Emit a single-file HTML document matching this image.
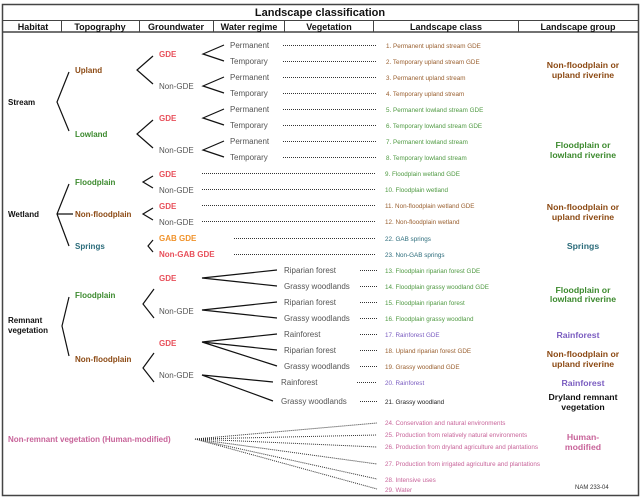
<!DOCTYPE html>
<html><head><meta charset="utf-8"><style>
html,body{margin:0;padding:0;background:#fff;}
svg{display:block;font-family:"Liberation Sans",Arial,sans-serif;}
.h{font-weight:bold;font-size:9px;fill:#111;text-anchor:middle}
.b{font-weight:bold;font-size:8px}
.w{font-size:8px;fill:#555}
.c{font-size:6.3px}
.g{font-weight:bold;font-size:8.7px;text-anchor:middle}
.ln{stroke:#111;stroke-width:1.2;fill:none}
.dt{stroke:#333;stroke-width:1;stroke-dasharray:1 1;fill:none}
</style></head><body>
<svg width="642" height="498" viewBox="0 0 642 498" xmlns="http://www.w3.org/2000/svg">
<rect x="2.5" y="4.5" width="636" height="491" fill="#fff" stroke="#444" stroke-width="1.5"/>
<line x1="2.5" y1="20.5" x2="638.5" y2="20.5" stroke="#444"/>
<line x1="2.5" y1="32" x2="638.5" y2="32" stroke="#444" stroke-width="1.5"/>
<text x="320" y="16" style="font-weight:bold;font-size:11px;fill:#111" text-anchor="middle">Landscape classification</text>
<g stroke="#444"><line x1="61.5" y1="20" x2="61.5" y2="32"/><line x1="139.5" y1="20" x2="139.5" y2="32"/><line x1="213.5" y1="20" x2="213.5" y2="32"/><line x1="284.5" y1="20" x2="284.5" y2="32"/><line x1="373.5" y1="20" x2="373.5" y2="32"/><line x1="518.5" y1="20" x2="518.5" y2="32"/></g>
<text class="h" x="33" y="30">Habitat</text><text class="h" x="100" y="30">Topography</text><text class="h" x="176" y="30">Groundwater</text><text class="h" x="249" y="30">Water regime</text><text class="h" x="329" y="30">Vegetation</text><text class="h" x="446" y="30">Landscape class</text><text class="h" x="578" y="30">Landscape group</text>

<text class="b" x="8" y="105" fill="#111">Stream</text>
<path class="ln" d="M69,72 L57,102 L69,131"/>
<text class="b" x="75" y="73" fill="#8c4a14">Upland</text>
<text class="b" x="75" y="137" fill="#3c8a2e">Lowland</text>
<path class="ln" d="M153,56 L137,70 L153,84"/><path class="ln" d="M153,120 L137,134 L153,148"/>
<text class="b" x="159" y="57" fill="#e8505b">GDE</text><text class="w" x="159" y="89">Non-GDE</text>
<text class="b" x="159" y="121" fill="#e8505b">GDE</text><text class="w" x="159" y="153">Non-GDE</text>
<g class="ln">
<path d="M224,45 L203,54 L224,61"/><path d="M224,77 L203,86 L224,93"/><path d="M224,109 L203,118 L224,125"/><path d="M224,141 L203,150 L224,157"/>
</g>
<g class="w">
<text x="230" y="48">Permanent</text><text x="230" y="64">Temporary</text><text x="230" y="80">Permanent</text><text x="230" y="96">Temporary</text>
<text x="230" y="112">Permanent</text><text x="230" y="128">Temporary</text><text x="230" y="144">Permanent</text><text x="230" y="160">Temporary</text>
</g>
<g class="dt">
<line x1="283" y1="45.5" x2="376" y2="45.5"/><line x1="283" y1="61.5" x2="376" y2="61.5"/><line x1="283" y1="77.5" x2="376" y2="77.5"/><line x1="283" y1="93.5" x2="376" y2="93.5"/>
<line x1="283" y1="109.5" x2="376" y2="109.5"/><line x1="283" y1="125.5" x2="376" y2="125.5"/><line x1="283" y1="141.5" x2="376" y2="141.5"/><line x1="283" y1="157.5" x2="376" y2="157.5"/>
<line x1="202" y1="173.5" x2="376" y2="173.5"/><line x1="202" y1="189.5" x2="376" y2="189.5"/><line x1="202" y1="205.5" x2="376" y2="205.5"/><line x1="202" y1="221.5" x2="376" y2="221.5"/>
<line x1="234" y1="238.5" x2="376" y2="238.5"/><line x1="234" y1="254.5" x2="376" y2="254.5"/>
<line x1="360" y1="270.5" x2="377" y2="270.5"/><line x1="360" y1="286.5" x2="377" y2="286.5"/><line x1="360" y1="302.5" x2="377" y2="302.5"/><line x1="360" y1="318.5" x2="377" y2="318.5"/>
<line x1="360" y1="334.5" x2="377" y2="334.5"/><line x1="360" y1="350.5" x2="377" y2="350.5"/><line x1="360" y1="366.5" x2="377" y2="366.5"/><line x1="357" y1="382.5" x2="377" y2="382.5"/><line x1="360" y1="401.5" x2="377" y2="401.5"/>
<line x1="195" y1="439" x2="377" y2="423"/><line x1="195" y1="439" x2="377" y2="435"/><line x1="195" y1="439" x2="377" y2="447"/><line x1="195" y1="439" x2="377" y2="464"/><line x1="195" y1="439" x2="377" y2="479"/><line x1="195" y1="439" x2="377" y2="489"/>
</g>
<g class="c">
<text x="386" y="48" fill="#9a6030">1. Permanent upland stream GDE</text><text x="386" y="64" fill="#9a6030">2. Temporary upland stream GDE</text>
<text x="386" y="80" fill="#9a6030">3. Permanent upland stream</text><text x="386" y="96" fill="#9a6030">4. Temporary upland stream</text>
<text x="386" y="112" fill="#4f9a42">5. Permanent lowland stream GDE</text><text x="386" y="128" fill="#4f9a42">6. Temporary lowland stream GDE</text>
<text x="386" y="144" fill="#4f9a42">7. Permanent lowland stream</text><text x="386" y="160" fill="#4f9a42">8. Temporary lowland stream</text>
<text x="385" y="176" fill="#4f9a42">9. Floodplain wetland GDE</text><text x="385" y="192" fill="#4f9a42">10. Floodplain wetland</text>
<text x="385" y="208" fill="#9a6030">11. Non-floodplain wetland GDE</text><text x="385" y="224" fill="#9a6030">12. Non-floodplain wetland</text>
<text x="385" y="241" fill="#2a6b7a">22. GAB springs</text><text x="385" y="257" fill="#2a6b7a">23. Non-GAB springs</text>
<text x="385" y="273" fill="#4f9a42">13. Floodplain riparian forest GDE</text><text x="385" y="289" fill="#4f9a42">14. Floodplain grassy woodland GDE</text>
<text x="385" y="305" fill="#4f9a42">15. Floodplain riparian forest</text><text x="385" y="321" fill="#4f9a42">16. Floodplain grassy woodland</text>
<text x="385" y="337" fill="#7a5cc0">17. Rainforest GDE</text><text x="385" y="353" fill="#9a6030">18. Upland riparian forest GDE</text>
<text x="385" y="369" fill="#9a6030">19. Grassy woodland GDE</text><text x="385" y="385" fill="#7a5cc0">20. Rainforest</text>
<text x="385" y="404" fill="#222">21. Grassy woodland</text>
<text x="385" y="425" fill="#c8649a">24. Conservation and natural environments</text><text x="385" y="437" fill="#c8649a">25. Production from relatively natural environments</text>
<text x="385" y="449" fill="#c8649a">26. Production from dryland agriculture and plantations</text><text x="385" y="466" fill="#c8649a">27. Production from irrigated agriculture and plantations</text>
<text x="385" y="482" fill="#c8649a">28. Intensive uses</text><text x="385" y="492" fill="#c8649a">29. Water</text>
</g>
<text x="575" y="489" style="font-size:6px;fill:#333">NAM 233-04</text>

<text class="b" x="8" y="217" fill="#111">Wetland</text>
<path class="ln" d="M69,184 L57,214 L69,246 M57,214 L73,214"/>
<text class="b" x="75" y="185" fill="#3c8a2e">Floodplain</text>
<text class="b" x="75" y="217" fill="#8c4a14">Non-floodplain</text>
<text class="b" x="75" y="249" fill="#2a6b7a">Springs</text>
<path class="ln" d="M153,176 L143,182 L153,188"/><path class="ln" d="M153,208 L143,214 L153,220"/><path class="ln" d="M153,240 L148,246 L153,252"/>
<text class="b" x="159" y="177" fill="#e8505b">GDE</text><text class="w" x="159" y="193">Non-GDE</text>
<text class="b" x="159" y="209" fill="#e8505b">GDE</text><text class="w" x="159" y="225">Non-GDE</text>
<text class="b" x="159" y="241" fill="#f0922a">GAB GDE</text><text class="b" x="159" y="257" fill="#e8505b">Non-GAB GDE</text>

<text class="b" x="8" y="323" fill="#111">Remnant</text><text class="b" x="8" y="333" fill="#111">vegetation</text>
<path class="ln" d="M69,297 L62,326 L69,356"/>
<text class="b" x="75" y="298" fill="#3c8a2e">Floodplain</text>
<text class="b" x="75" y="362" fill="#8c4a14">Non-floodplain</text>
<path class="ln" d="M154,289 L143,304 L154,318"/><path class="ln" d="M154,353 L143,368 L154,382"/>
<text class="b" x="159" y="281" fill="#e8505b">GDE</text><text class="w" x="159" y="314">Non-GDE</text>
<text class="b" x="159" y="346" fill="#e8505b">GDE</text><text class="w" x="159" y="378">Non-GDE</text>
<g class="ln">
<path d="M277,270 L202,278 L277,286"/><path d="M277,302 L202,310 L277,318"/>
<path d="M277,334 L202,342 L277,350 M202,342 L277,366"/><path d="M273,382 L202,375 L273,401"/>
</g>
<g class="w">
<text x="284" y="273">Riparian forest</text><text x="284" y="289">Grassy woodlands</text><text x="284" y="305">Riparian forest</text><text x="284" y="321">Grassy woodlands</text>
<text x="284" y="337">Rainforest</text><text x="284" y="353">Riparian forest</text><text x="284" y="369">Grassy woodlands</text><text x="281" y="385">Rainforest</text><text x="281" y="404">Grassy woodlands</text>
</g>
<text class="b" x="8" y="442" fill="#c8649a">Non-remnant vegetation (Human-modified)</text>

<g class="g">
<text x="583" y="68" fill="#8c4a14">Non-floodplain or</text><text x="583" y="78" fill="#8c4a14">upland riverine</text>
<text x="583" y="148" fill="#3c8a2e">Floodplain or</text><text x="583" y="158" fill="#3c8a2e">lowland riverine</text>
<text x="583" y="210" fill="#8c4a14">Non-floodplain or</text><text x="583" y="220" fill="#8c4a14">upland riverine</text>
<text x="583" y="249" fill="#2a6b7a">Springs</text>
<text x="583" y="293" fill="#3c8a2e">Floodplain or</text><text x="583" y="302" fill="#3c8a2e">lowland riverine</text>
<text x="578" y="338" fill="#7a5cc0">Rainforest</text>
<text x="583" y="357" fill="#8c4a14">Non-floodplain or</text><text x="583" y="367" fill="#8c4a14">upland riverine</text>
<text x="583" y="386" fill="#7a5cc0">Rainforest</text>
<text x="583" y="400" fill="#111">Dryland remnant</text><text x="583" y="410" fill="#111">vegetation</text>
<text x="583" y="440" fill="#c8649a">Human-</text><text x="583" y="450" fill="#c8649a">modified</text>
</g>
</svg>
</body></html>
